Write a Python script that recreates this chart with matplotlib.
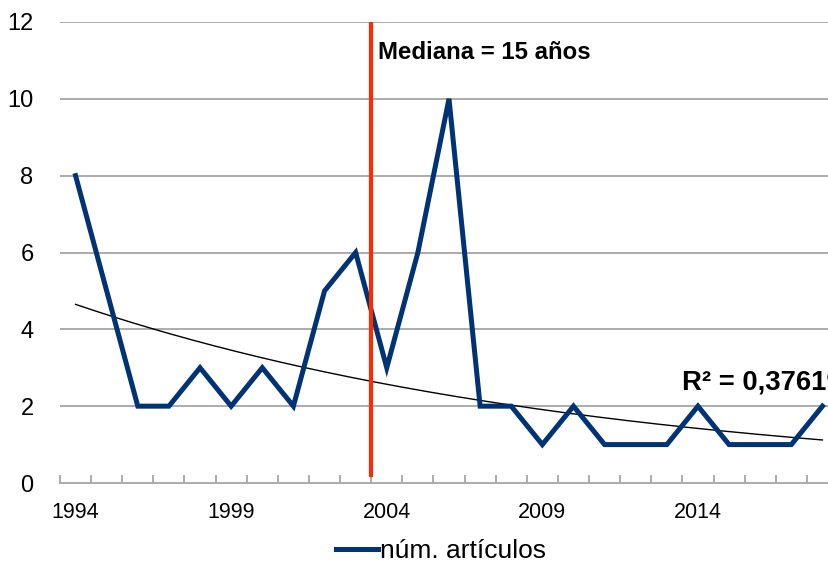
import numpy as np
from matplotlib import pyplot as plt

plt.rcParams['font.family'] = ['Liberation Sans', 'DejaVu Sans']

years = list(range(1994, 2019))
articulos = [8, 5, 2, 2, 3, 2, 3, 2, 5, 6, 3, 6, 10, 2, 2, 1, 2, 1, 1, 1, 2, 1, 1, 1, 2]
year_labels = ['1994', '1999', '2004', '2009', '2014']

# exponential trendline, values
trend_start = 4.65
trend_end = 1.12
median_pos = 9.5  # between 2003 and 2004

fig = plt.figure(figsize=(8.29, 5.62), dpi=100)
ax = fig.add_axes([60 / 829, 1 - 483 / 562, 778 / 829, 461 / 562])

x = np.arange(len(years))
ax.set_xlim(-0.5, len(years) - 0.5)
ax.set_ylim(0, 12)

for y in range(2, 13, 2):
    ax.axhline(y, color='#a6a6a6', lw=1.3, zorder=0)

rate = np.log(trend_end / trend_start) / (len(years) - 1)
xt = np.linspace(0, len(years) - 1, 200)
ax.plot(xt, trend_start * np.exp(rate * xt), color='black', lw=1.0, zorder=2)

line, = ax.plot(x, articulos, color='#003375', lw=3.6, solid_joinstyle='miter',
                zorder=3, label='núm. artículos')

ax.plot([median_pos, median_pos], [0.2, 12], color='#ff2a00', lw=3, zorder=4)
ax.text(median_pos + 0.22, 11.2, 'Mediana = 15 años', fontsize=17.3, fontweight='bold',
        va='center', ha='left')
ax.text(19.48, 2.62, 'R² = 0,37619', fontsize=19.8, fontweight='bold', va='center', ha='left',
        clip_on=False)

for side in ['left', 'right', 'top']:
    ax.spines[side].set_visible(False)
ax.spines['bottom'].set_color('#a6a6a6')
ax.spines['bottom'].set_linewidth(1.3)

ax.set_xticks(x[::5])
ax.set_xticklabels(year_labels, fontsize=15.5)
ax.set_xticks(np.arange(-0.5, len(years), 1), minor=True)
ax.tick_params(axis='x', which='major', length=0, pad=14)
ax.tick_params(axis='x', which='minor', direction='in', length=6, color='#a6a6a6', width=1.3)

ax.set_yticks(range(0, 13, 2))
ax.set_yticklabels([str(v) for v in range(0, 13, 2)], fontsize=17)
ax.tick_params(axis='y', length=0, pad=19)

fig.legend(handles=[line], labels=['núm. artículos'], loc='center', bbox_to_anchor=(441 / 829, 1 - 551 / 562),
           frameon=False, fontsize=19, handlelength=1.6, handletextpad=0.1)

fig.savefig('out.png', dpi=100)
